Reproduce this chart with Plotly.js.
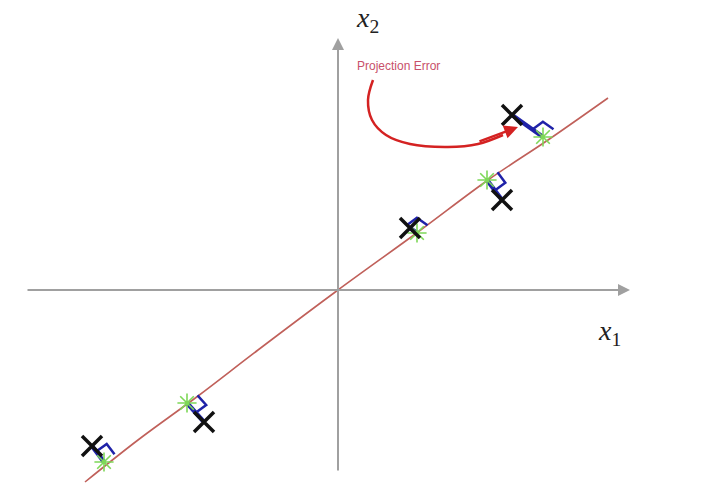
<!DOCTYPE html>
<html><head><meta charset="utf-8">
<script src="https://cdn.plot.ly/plotly-3.0.1.min.js"></script>
<style>html,body{margin:0;padding:0;background:#fff}#chart{width:701px;height:500px}</style>
</head><body><div id="chart"></div>
<script>
// Data points (x1, x2) relative to origin
const pointX1 = [174, 164, 72, -134, -246];
const pointX2 = [175, 90, 62, -132, -156];
// Projections onto the principal line
const projX1 = [205, 149, 79, -151, -234];
const projX2 = [153, 110, 57, -113, -172];
// Principal direction line (hand-drawn, slightly wavy)
const lineX1 = [-253, -200, -140, -80, 0, 80, 150, 210, 270];
const lineX2 = [-192, -150, -106, -60, 0, 58, 110, 150, 192];
// Curved "projection error" arrow
const arrowX1 = [35, 30, 34, 48, 72, 110, 140, 165];
const arrowX2 = [210, 190, 170, 155, 146, 143, 146, 155];

const traces = [];
traces.push({x: lineX1, y: lineX2, mode: 'lines', type: 'scatter',
  line: {color: '#c0605a', width: 1.6, shape: 'spline'}, hoverinfo: 'skip'});
traces.push({x: arrowX1, y: arrowX2, mode: 'lines', type: 'scatter',
  line: {color: '#d42222', width: 2.5, shape: 'spline'}, hoverinfo: 'skip'});

// projection segments and right-angle marks
const ux = 1 / Math.hypot(1, 0.73), uy = 0.73 / Math.hypot(1, 0.73);
const s = 13;
for (let i = 0; i < pointX1.length; i++) {
  traces.push({x: [pointX1[i], projX1[i]], y: [pointX2[i], projX2[i]], mode: 'lines', type: 'scatter',
    line: {color: '#1f22a8', width: 4.5}, hoverinfo: 'skip'});
  const dx = pointX1[i] - projX1[i], dy = pointX2[i] - projX2[i];
  const d = Math.hypot(dx, dy), nx = dx / d, ny = dy / d;
  const px = projX1[i], py = projX2[i];
  traces.push({x: [px + nx * s, px + nx * s + ux * s, px + ux * s],
    y: [py + ny * s, py + ny * s + uy * s, py + uy * s], mode: 'lines', type: 'scatter',
    line: {color: '#1f22a8', width: 2.5}, hoverinfo: 'skip'});
}
traces.push({x: projX1, y: projX2, mode: 'markers', type: 'scatter',
  marker: {symbol: 'asterisk-open', size: 16, color: '#7ed858', line: {color: '#7ed858', width: 1.6}}, hoverinfo: 'skip'});
traces.push({x: pointX1, y: pointX2, mode: 'markers', type: 'scatter',
  marker: {symbol: 'x-thin-open', size: 20, color: '#111111', line: {color: '#111111', width: 3.5}}, hoverinfo: 'skip'});

const axisArrow = (x, y, ax, ay) => ({x: x, y: y, ax: ax, ay: ay, xref: 'x', yref: 'y', axref: 'x', ayref: 'y',
  showarrow: true, arrowhead: 2, arrowsize: 1.2, arrowwidth: 2, arrowcolor: '#a0a0a0', text: ''});

const layout = {
  width: 701, height: 500,
  margin: {l: 0, r: 0, t: 0, b: 0},
  paper_bgcolor: '#ffffff', plot_bgcolor: '#ffffff',
  showlegend: false,
  xaxis: {range: [-338, 363], visible: false, fixedrange: true},
  yaxis: {range: [-210, 290], visible: false, fixedrange: true},
  annotations: [
    axisArrow(292, 0, -312, 0),
    axisArrow(0, 252, 0, -182),
    {x: 180, y: 163, ax: 140, ay: 148, xref: 'x', yref: 'y', axref: 'x', ayref: 'y',
      showarrow: true, arrowhead: 2, arrowsize: 1.1, arrowwidth: 2.5, arrowcolor: '#d42222', text: ''},
    {x: 17, y: 224, xref: 'x', yref: 'y', xanchor: 'left', yanchor: 'middle', showarrow: false,
      text: 'Projection Error', font: {family: 'Liberation Sans, Arial', size: 12, color: '#c8506a'}},
    {x: 16, y: 271, xref: 'x', yref: 'y', xanchor: 'left', yanchor: 'middle', showarrow: false,
      text: '<i>x</i><sub>2</sub>', font: {family: 'Liberation Serif', size: 28, color: '#222222'}},
    {x: 258, y: -42, xref: 'x', yref: 'y', xanchor: 'left', yanchor: 'middle', showarrow: false,
      text: '<i>x</i><sub>1</sub>', font: {family: 'Liberation Serif', size: 28, color: '#222222'}}
  ]
};
Plotly.newPlot('chart', traces, layout, {staticPlot: true, displayModeBar: false});
</script></body></html>
